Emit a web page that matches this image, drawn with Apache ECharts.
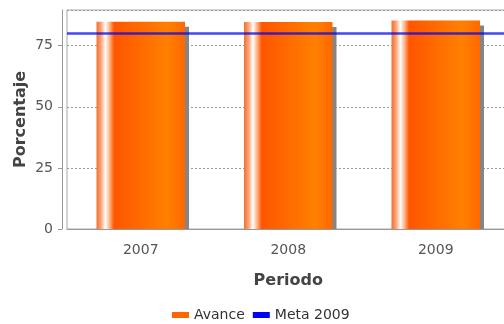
<!DOCTYPE html>
<html>
<head>
<meta charset="utf-8">
<script src="https://cdn.jsdelivr.net/npm/echarts@6/dist/echarts.min.js"></script>
<style>
  html, body { margin: 0; padding: 0; background: #ffffff; }
  #chart { width: 504px; height: 324px; }
</style>
</head>
<body>
<div id="chart"></div>
<script>
// Progress per period against the 2009 target
const periodos = ['2007', '2008', '2009'];
const avance = [84.8, 84.7, 85.3];
const meta2009 = 80;
const yTicks = [0, 25, 50, 75];
const yMax = 89.6;

const FONT = 'DejaVu Sans';

// Cylinder-like horizontal shading of each bar
const barGradient = new echarts.graphic.LinearGradient(0, 0, 1, 0, [
  { offset: 0.00, color: '#f07030' },
  { offset: 0.05, color: '#ffa070' },
  { offset: 0.10, color: '#ffffff' },
  { offset: 0.15, color: '#ffb080' },
  { offset: 0.20, color: '#ff5500' },
  { offset: 0.80, color: '#ff8000' },
  { offset: 1.00, color: '#ff6800' }
]);

function renderBar(params, api) {
  const idx = api.value(0);
  const val = api.value(1);
  const top = api.coord([idx, val]);
  const base = api.coord([idx, 0]);
  const bw = api.size([1, 0])[0] * 0.6;
  const left = top[0] - bw / 2;
  const h = base[1] - top[1];
  return {
    type: 'group',
    children: [
      { // drop shadow to the right
        type: 'rect',
        shape: { x: left + 4, y: top[1] + 5, width: bw, height: h - 5 },
        style: { fill: '#858585' }
      },
      {
        type: 'rect',
        shape: { x: left, y: top[1], width: bw, height: h },
        style: { fill: barGradient }
      }
    ]
  };
}

const chart = echarts.init(document.getElementById('chart'), null, { renderer: 'canvas' });

chart.setOption({
  animation: false,
  backgroundColor: '#ffffff',
  grid: {
    left: 67, top: 10, width: 442.5, bottom: 95,
    outerBoundsMode: 'none',
    show: true, borderColor: '#a8a8a8', borderWidth: 1, backgroundColor: '#ffffff'
  },
  legend: {
    left: 167, top: 303,
    icon: 'rect', itemWidth: 17, itemHeight: 6, itemGap: 8,
    textStyle: { fontFamily: FONT, fontSize: 14, color: '#333333' },
    data: ['Avance', 'Meta 2009']
  },
  xAxis: {
    type: 'category',
    data: periodos,
    offset: 5,
    name: 'Periodo',
    nameLocation: 'middle',
    nameGap: 39,
    nameMoveOverlap: false,
    nameTextStyle: { fontFamily: FONT, fontSize: 16, fontWeight: 'bold', color: '#444444' },
    axisLine: { show: true, lineStyle: { color: '#999999' } },
    axisTick: { show: false },
    axisLabel: { margin: 9, fontFamily: FONT, fontSize: 14, color: '#555555' },
    splitLine: { show: false }
  },
  yAxis: {
    type: 'value',
    min: yTicks[0],
    max: yMax,
    interval: yTicks[1] - yTicks[0],
    offset: 5,
    name: 'Porcentaje',
    nameLocation: 'middle',
    nameGap: 33,
    nameMoveOverlap: false,
    nameTextStyle: { fontFamily: FONT, fontSize: 16, fontWeight: 'bold', color: '#444444' },
    axisLine: { show: true, lineStyle: { color: '#999999' } },
    axisTick: { show: true, length: 4, lineStyle: { color: '#999999' } },
    axisLabel: { margin: 9, fontFamily: FONT, fontSize: 14, color: '#555555', showMaxLabel: false },
    splitLine: { show: true, lineStyle: { color: '#999999', type: [2, 2], width: 1 } }
  },
  series: [
    {
      name: 'Avance',
      type: 'custom',
      renderItem: renderBar,
      itemStyle: { color: '#ff6600' },
      encode: { x: 0, y: 1 },
      data: avance.map((v, i) => [i, v]),
      z: 2
    },
    {
      name: 'Meta 2009',
      type: 'line',
      data: [],
      itemStyle: { color: '#0000ff' },
      lineStyle: { color: '#0000ff' },
      markLine: {
        silent: true,
        symbol: ['none', 'none'],
        label: { show: false },
        lineStyle: { color: 'rgba(0,0,235,0.72)', width: 2.5, type: 'solid' },
        data: [{ yAxis: meta2009 }]
      },
      z: 3
    }
  ]
});
</script>
</body>
</html>
